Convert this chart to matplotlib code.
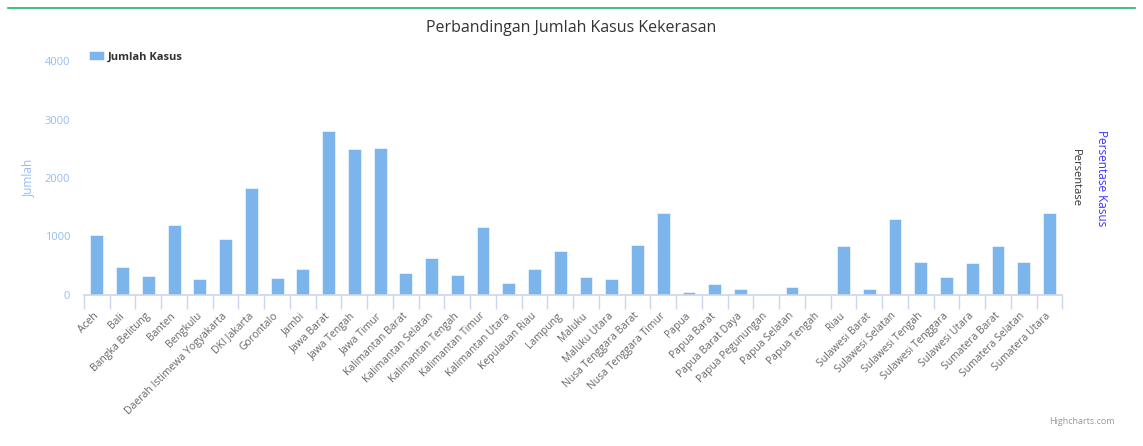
import matplotlib
matplotlib.use("Agg")
import matplotlib.pyplot as plt
import numpy as np

plt.rcParams['font.family'] = ['Open Sans', 'DejaVu Sans']

# provinsi dan jumlah kasus
provinsi = [
    "Aceh", "Bali", "Bangka Belitung", "Banten", "Bengkulu",
    "Daerah Istimewa Yogyakarta", "DKI Jakarta", "Gorontalo", "Jambi",
    "Jawa Barat", "Jawa Tengah", "Jawa Timur", "Kalimantan Barat",
    "Kalimantan Selatan", "Kalimantan Tengah", "Kalimantan Timur",
    "Kalimantan Utara", "Kepulauan Riau", "Lampung", "Maluku",
    "Maluku Utara", "Nusa Tenggara Barat", "Nusa Tenggara Timur", "Papua",
    "Papua Barat", "Papua Barat Daya", "Papua Pegunungan", "Papua Selatan",
    "Papua Tengah", "Riau", "Sulawesi Barat", "Sulawesi Selatan",
    "Sulawesi Tengah", "Sulawesi Tenggara", "Sulawesi Utara",
    "Sumatera Barat", "Sumatera Selatan", "Sumatera Utara",
]
jumlah_kasus = [
    1020, 479, 319, 1202, 268,
    963, 1835, 285, 450,
    2803, 2490, 2507, 380,
    632, 347, 1157,
    205, 444, 752, 302,
    268, 860, 1396, 56,
    188, 108, 17, 142,
    0, 837, 108, 1305,
    559, 302, 541,
    837, 570, 1396,
]
y_ticks = [0, 1000, 2000, 3000, 4000]

bar_color = "#7cb5ec"
axis_color = "#ccd6eb"
label_color = "#666666"

fig = plt.figure(figsize=(11.43, 4.46), dpi=100)
ax = fig.add_axes([84 / 1143, 151 / 446, 978.3 / 1143, 234 / 446])

x = np.arange(len(provinsi))
ax.bar(x, jumlah_kasus, width=0.5, color=bar_color, edgecolor="white",
       linewidth=0.4, label="Jumlah Kasus", zorder=2)

ax.set_xlim(-0.5, len(provinsi) - 0.5)
ax.set_ylim(0, 4000)
ax.set_yticks(y_ticks)
ax.set_yticklabels([str(t) for t in y_ticks], color="#94bdef", fontsize=8)
ax.tick_params(axis="y", length=0, pad=10)

ax.set_xticks(x)
ax.set_xticklabels(provinsi, rotation=45, ha="right", va="center",
                   rotation_mode="anchor", fontsize=7.5, color=label_color)
ax.tick_params(axis="x", which="major", length=0, pad=14)
ax.set_xticks(np.arange(len(provinsi) + 1) - 0.5, minor=True)
ax.tick_params(axis="x", which="minor", length=10, width=1, color=axis_color)

for side in ["top", "right", "left"]:
    ax.spines[side].set_visible(False)
ax.spines["bottom"].set_color(axis_color)
ax.spines["bottom"].set_linewidth(1.2)

ax.set_ylabel("Jumlah", color="#94bdef", fontsize=8.5, labelpad=7)

leg = ax.legend(loc="upper left", bbox_to_anchor=(-0.005, 1.085), frameon=False,
                handlelength=1.3, handleheight=0.9, handletextpad=0.4,
                prop={"weight": "bold", "size": 8})
for t in leg.get_texts():
    t.set_color("#333333")

fig.text(0.5, 1 - 28 / 446, "Perbandingan Jumlah Kasus Kekerasan", ha="center",
         va="center", fontsize=11.5, color="#333333")
fig.text(1075 / 1143, 1 - 178 / 446, "Persentase", rotation=270, ha="center",
         va="center", fontsize=8, color="#333333")
fig.text(1101 / 1143, 1 - 178 / 446, "Persentase Kasus", rotation=270,
         ha="center", va="center", fontsize=8.5, color="#3a33ff")
fig.text(1115 / 1143, 1 - 422 / 446, "Highcharts.com", ha="right", va="center",
         fontsize=6.5, color="#999999")

fig.add_artist(plt.Line2D([8 / 1143, 1135 / 1143], [1 - 8 / 446, 1 - 8 / 446],
                          color="#1fb765", linewidth=1.2))

fig.savefig("out.png", dpi=100)
